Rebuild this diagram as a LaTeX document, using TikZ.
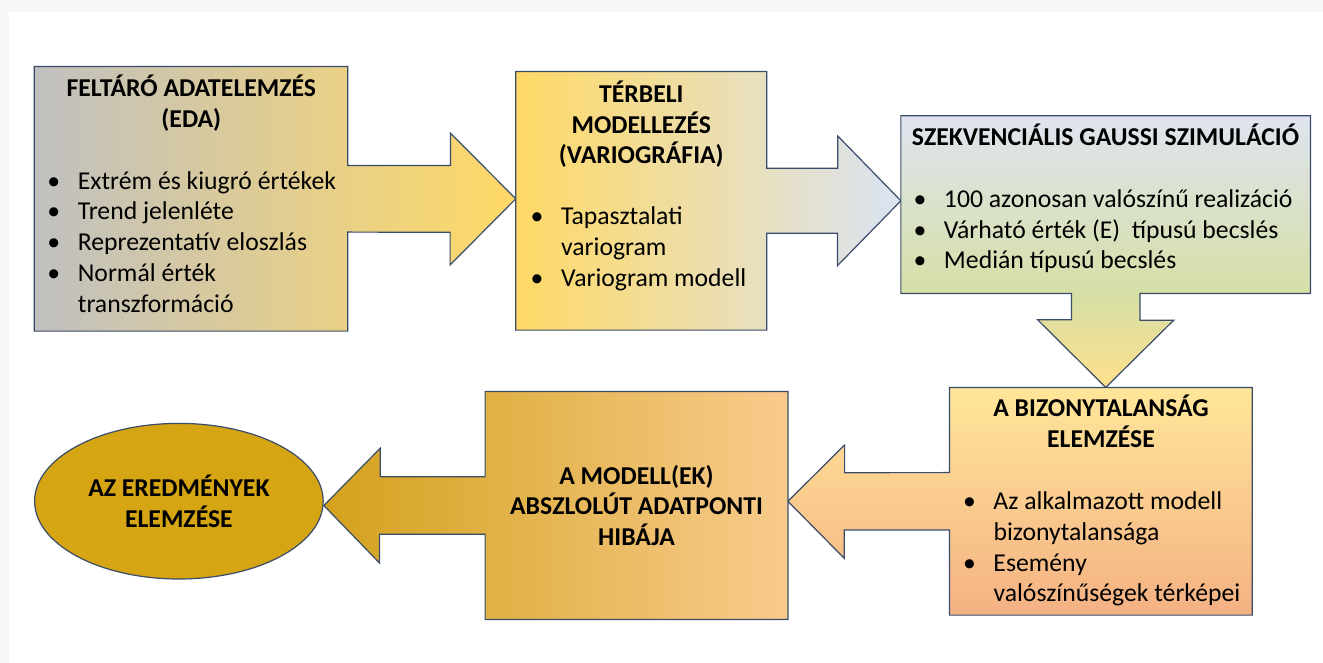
\documentclass[tikz,border=0pt]{standalone}
\usepackage{fontspec}
\setmainfont{Carlito}
\usetikzlibrary{shapes.geometric,backgrounds}

\definecolor{framegrey}{HTML}{F7F7F7}
\definecolor{edgeblue}{HTML}{3B4C6B}
\definecolor{edagrey}{HTML}{C0C0C0}
\definecolor{gold}{HTML}{FFD966}
\definecolor{lightblue}{HTML}{DAE3F3}
\definecolor{simtop}{HTML}{DFE4F0}
\definecolor{simmid}{HTML}{D5DFA6}
\definecolor{simbot}{HTML}{FFE08C}
\definecolor{biztop}{HTML}{FFE699}
\definecolor{bizbot}{HTML}{F4B183}
\definecolor{hibleft}{HTML}{D4A21C}
\definecolor{hibright}{HTML}{F8CB8D}
\definecolor{resgold}{HTML}{D5A514}

\pgfdeclareverticalshading{simshade}{100bp}{color(0bp)=(simbot); color(25bp)=(simbot);
  color(42.4bp)=(simmid); color(75bp)=(simtop); color(100bp)=(simtop)}

\newcommand{\diafont}{\fontsize{25.7}{30.7}\selectfont}
\newcommand{\blt}{\makebox[30.5pt][l]{\textbullet}}
\newcommand{\bind}{\hspace*{30.5pt}}

\tikzset{
  box/.style={rectangle, inner sep=0pt},
  callout/.style={draw=edgeblue, line width=1.2pt, line join=miter},
  boxtitle/.style={font=\diafont\bfseries, align=center, inner sep=0pt, anchor=base},
  blist/.style={align=left, inner sep=0pt, anchor=base west}
}

\begin{document}
\begin{tikzpicture}[x=1pt, y=1pt, font=\diafont]
        \useasboundingbox (0,0) rectangle (1323,663);

        % boxes
        \node[box, minimum width=313pt, minimum height=264.3pt] (eda) at (191,464.2) {};
        \node[box, minimum width=250.6pt, minimum height=258.3pt] (ter) at (641.3,462.2) {};
        \node[box, minimum width=409.3pt, minimum height=177.3pt] (sgs) at (1105.7,458.3) {};
        \node[box, minimum width=302.4pt, minimum height=227.3pt] (biz) at (1100.8,161.7) {};
        \node[box, font=\diafont\bfseries, align=center, minimum width=302.4pt, minimum height=227.6pt] (hib) at (636.5,157.5)
            {A MODELL(EK)\\ABSZLOLÚT ADATPONTI\\HIBÁJA};
        \node[ellipse, callout, fill=resgold, font=\diafont\bfseries, align=center, inner sep=0pt,
            minimum width=288.6pt, minimum height=155.6pt] (res) at (178.9,161.8) {AZ EREDMÉNYEK\\ELEMZÉSE};

        \begin{pgfonlayer}{background}
        \fill[framegrey] (0,0) rectangle (1323,663);
        \fill[white] (8.7,0) rectangle (1323,651);

        \shade[callout, left color=edagrey, right color=gold]
            (eda.north west) -- (eda.north east) -- ([yshift=33.3pt]eda.east) -- ++(102.7,0) -- ++(0,32.4)
            -- (eda.east -| ter.west) -- ++(-65.7,-66.2) -- ++(0,32.7) -- ([yshift=-33.3pt]eda.east)
            -- (eda.south east) -- (eda.south west) -- cycle;
        \shade[callout, left color=gold, right color=lightblue]
            (ter.north west) -- (ter.north east) -- ([yshift=32.5pt]ter.east) -- ++(71,0) -- ++(0,32.3)
            -- (ter.east -| sgs.west) -- ++(-63.4,-64.9) -- ++(0,32.5) -- ([yshift=-32.5pt]ter.east)
            -- (ter.south east) -- (ter.south west) -- cycle;
        \shade[callout, shading=simshade]
            (sgs.north west) -- (sgs.north east) -- (sgs.south east) -- ([xshift=34.2pt]sgs.south) -- ++(0,-26.7)
            -- ++(33.8,0) -- (sgs.south |- biz.north) -- ++(-68.1,67.7) -- ++(33.8,0) -- ([xshift=-34.2pt]sgs.south)
            -- (sgs.south west) -- cycle;
        \shade[callout, top color=biztop, bottom color=bizbot]
            (biz.north west) -- (biz.north east) -- (biz.south east) -- (biz.south west) -- ([yshift=-28.7pt]biz.west)
            -- ++(-105.2,0) -- ++(0,-28.3) -- (biz.west -| hib.east) -- ++(56.7,56.3) -- ++(0,-27.7)
            -- ([yshift=28.7pt]biz.west) -- cycle;
        \shade[callout, left color=hibleft, right color=hibright]
            (hib.north west) -- (hib.north east) -- (hib.south east) -- (hib.south west) -- ([yshift=-28.7pt]hib.west)
            -- ++(-105.7,0) -- ++(0,-28.7) -- (hib.west -| res.east) -- ++(56.4,57.2) -- ++(0,-28.5)
            -- ([yshift=28.7pt]hib.west) -- cycle;
        \end{pgfonlayer}

        % texts (anchored at the baseline of their last line)
        \node[boxtitle] (edatitle) at (191.3,535.6) {FELTÁRÓ ADATELEMZÉS\\(EDA)};
        \node[blist] (edalist) at (47.2,350.9) {\blt Extrém és kiugró értékek\\\blt Trend jelenléte\\\blt Reprezentatív eloszlás\\\blt Normál érték\\\bind transzformáció};

        \node[boxtitle] (tertitle) at (641.3,499.1) {TÉRBELI\\MODELLEZÉS\\(VARIOGRÁFIA)};
        \node[blist] (terlist) at (530.4,376.8) {\blt Tapasztalati\\\bind variogram\\\blt Variogram modell};

        \node[boxtitle] (sgstitle) at (1105.5,517.8) {SZEKVENCIÁLIS GAUSSI SZIMULÁCIÓ};
        \node[blist] (sgslist) at (913.3,394.1) {\blt 100 azonosan valószínű realizáció\\\blt Várható érték (E)~ típusú becslés\\\blt Medián típusú becslés};

        \node[boxtitle] (biztitle) at (1101,215.5) {A BIZONYTALANSÁG\\ELEMZÉSE};
        \node[blist] (bizlist) at (962.8,61.1) {\blt Az alkalmazott modell\\\bind bizonytalansága\\\blt Esemény\\\bind valószínűségek térképei};
    \end{tikzpicture}
\end{document}
